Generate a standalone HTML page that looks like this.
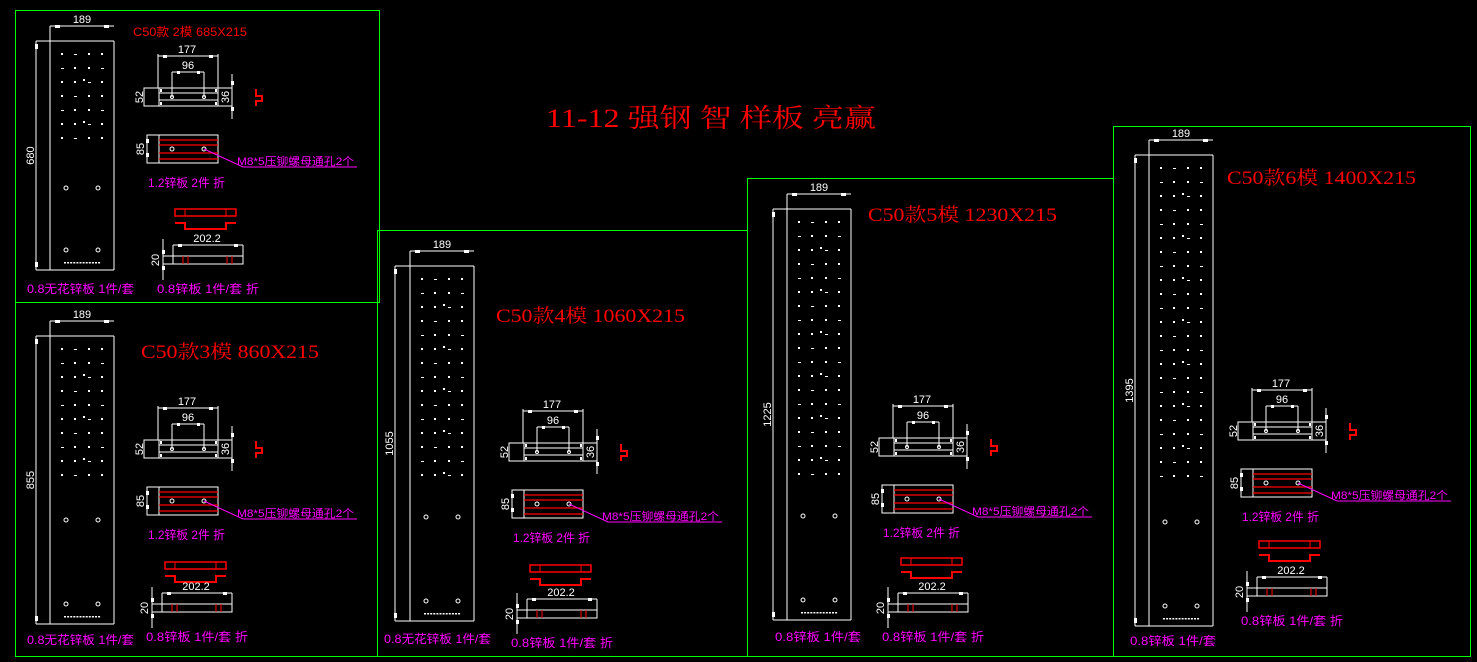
<!DOCTYPE html>
<html><head><meta charset="utf-8">
<style>
html,body{margin:0;padding:0;background:#000;width:1477px;height:662px;overflow:hidden}
svg{display:block}
text{font-family:"Liberation Sans","Noto Sans CJK SC",sans-serif}
.sf{font-family:"Liberation Serif","Noto Serif CJK SC",serif}
</style></head>
<body>
<svg id="s" width="1477" height="662" viewBox="0 0 1477 662" xmlns="http://www.w3.org/2000/svg">
<rect width="1477" height="662" fill="#000"/>
<g fill="none" stroke="#00ff00" stroke-width="1">
<rect x="15.5" y="10.5" width="364" height="292"/>
<rect x="15.5" y="302.5" width="362" height="354"/>
<rect x="377.5" y="230.5" width="370" height="426"/>
<rect x="747.5" y="178.5" width="366" height="478"/>
<rect x="1113.5" y="126.5" width="357" height="530"/>
</g>
<text class="sf" x="546" y="127" fill="#ff0000" font-size="26" textLength="330" lengthAdjust="spacingAndGlyphs">11-12 强钢 智 样板 亮赢</text>
<text x="133" y="36" fill="#ff0000" font-size="12" textLength="114" lengthAdjust="spacingAndGlyphs">C50款 2模 685X215</text>
<text class="sf" x="141" y="358" fill="#ff0000" font-size="19" textLength="178" lengthAdjust="spacingAndGlyphs">C50款3模 860X215</text>
<text class="sf" x="496" y="322" fill="#ff0000" font-size="19" textLength="189" lengthAdjust="spacingAndGlyphs">C50款4模 1060X215</text>
<text class="sf" x="868" y="221" fill="#ff0000" font-size="19" textLength="189" lengthAdjust="spacingAndGlyphs">C50款5模 1230X215</text>
<text class="sf" x="1227" y="184" fill="#ff0000" font-size="19" textLength="189" lengthAdjust="spacingAndGlyphs">C50款6模 1400X215</text>
<g fill="#ff00ff" font-size="12">
<text x="27" y="293" textLength="107" lengthAdjust="spacingAndGlyphs">0.8无花锌板 1件/套</text>
<text x="27" y="644" textLength="107" lengthAdjust="spacingAndGlyphs">0.8无花锌板 1件/套</text>
<text x="384" y="643" textLength="107" lengthAdjust="spacingAndGlyphs">0.8无花锌板 1件/套</text>
<text x="775" y="641" textLength="86" lengthAdjust="spacingAndGlyphs">0.8锌板 1件/套</text>
<text x="1130" y="645" textLength="86" lengthAdjust="spacingAndGlyphs">0.8锌板 1件/套</text>
</g>
<g id="dyn"></g>
</svg>
<script>
var out=[];
function L(x1,y1,x2,y2,c,w){out.push('<line x1="'+x1+'" y1="'+y1+'" x2="'+x2+'" y2="'+y2+'" stroke="'+(c||'#fff')+'" stroke-width="'+(w||1)+'"/>');}
function R(x,y,w,h,c,sw){out.push('<rect x="'+x+'" y="'+y+'" width="'+w+'" height="'+h+'" fill="none" stroke="'+(c||'#fff')+'" stroke-width="'+(sw||1)+'"/>');}
function F(x,y,w,h,c){out.push('<rect x="'+x+'" y="'+y+'" width="'+w+'" height="'+h+'" fill="'+(c||'#fff')+'"/>');}
function C(x,y,r,c){out.push('<circle cx="'+x+'" cy="'+y+'" r="'+r+'" fill="none" stroke="'+(c||'#fff')+'" stroke-width="1"/>');}
function T(x,y,s,sz,c,anchor,rot,tl){out.push('<text x="'+x+'" y="'+y+'" font-size="'+sz+'" fill="'+(c||'#fff')+'"'+(anchor?' text-anchor="'+anchor+'"':'')+(rot?' transform="rotate(-90 '+x+' '+y+')"':'')+(tl?' textLength="'+tl+'" lengthAdjust="spacingAndGlyphs"':'')+'>'+s+'</text>');}
function P(pts,c,w){out.push('<polyline points="'+pts.map(function(p){return p.join(',')}).join(' ')+'" fill="none" stroke="'+c+'" stroke-width="'+w+'"/>');}

function plate(dx,L0,top,bot,lbl){
  var R0=L0+64;
  L(L0,top-15,R0,top-15); L(L0,top-15,L0,top); F(L0+5,top-16,5,3);F(R0-10,top-16,5,3);
  T((L0+R0)/2,top-18,"189",11,"#fff","middle");
  L(dx,top,R0,top); L(dx,bot,R0,bot); L(dx,top,dx,bot); L(L0,top,L0,bot); L(R0,top,R0,bot);
  F(dx-1,top+3,3,5);F(dx-1,bot-8,3,5);
  T(dx-2,(top+bot)/2,lbl,11,"#fff","middle",1);
  var xs=[L0+12,L0+25,L0+39,L0+52];
  var holeY1=bot-104, holeY2=bot-20;
  if(bot-top<240){holeY1=top+147;holeY2=bot-20;}
  var rows=Math.floor((holeY1-40-(top+13))/14)+1;
  for(var i=0;i<rows;i++){var y=top+13+i*14;for(var j=0;j<4;j++){ if((i+j)%3==1) F(xs[j]-1,y,3,1); else F(xs[j]-1,y-1,2,2);} if(i%3==2) F(L0+33,y-3,2,2);}
  C(L0+16,holeY1,2);C(L0+48,holeY1,2);C(L0+16,holeY2,2);C(L0+48,holeY2,2);
  for(var k=0;k<12;k++) F(L0+14+k*3.1,bot-8,2,1.5);
}
function blockA(ox,oy){
  function x(v){return v+ox} function y(v){return v+oy}
  L(x(158),y(56),x(218),y(56)); L(x(158),y(54),x(158),y(88)); L(x(218),y(54),x(218),y(88));
  F(x(163),y(55),4,3);F(x(209),y(55),4,3);
  T(x(187),y(53),"177",11,"#fff","middle");
  L(x(172),y(72),x(204),y(72)); L(x(172),y(72),x(172),y(97)); L(x(204),y(72),x(204),y(97));
  F(x(177),y(71),3,3);F(x(197),y(71),3,3);
  T(x(188),y(69),"96",11,"#fff","middle");
  R(x(144),y(88),15,18); R(x(159),y(88),59,18);
  L(x(159),y(93),x(218),y(93)); L(x(159),y(100),x(218),y(100));
  C(x(172),y(97),1.5);C(x(204),y(97),1.5);
  F(x(160),y(89),2,3);F(x(215),y(89),2,3);F(x(160),y(102),2,3);F(x(215),y(102),2,3);
  T(x(143),y(97),"52",11,"#fff","middle",1);
  L(x(218),y(88),x(232),y(88)); L(x(218),y(106),x(232),y(106)); L(x(232),y(74),x(232),y(119));
  F(x(231),y(81),3,4);F(x(231),y(107),3,4);
  T(x(229),y(97),"36",11,"#fff","middle",1);
  P([[x(256),y(89)],[x(256),y(96)],[x(262),y(96)],[x(262),y(101)],[x(256),y(101)],[x(256),y(106)]],"#ff0000",2);
  R(x(147),y(135),71,28); L(x(159),y(135),x(159),y(163));
  [140,145,153,159].forEach(function(v){L(x(159),y(v),x(218),y(v),"#ff0000",1.2)});
  C(x(172),y(149),2);C(x(204),y(149),2);
  F(x(146),y(139),3,4);F(x(146),y(153),3,4);
  T(x(144),y(149),"85",11,"#fff","middle",1);
  P([[x(204),y(149)],[x(243),y(167)],[x(357),y(167)]],"#ff00ff",1);
  T(x(237),y(165),"M8*5压铆螺母通孔2个",11,"#ff00ff",null,null,117);
  T(x(148),y(187),"1.2锌板 2件 折",12,"#ff00ff",null,null,77);
}
function blockB(ox,oy){
  R(175+ox,209+oy,61,7,"#ff0000",1.5); L(185+ox,209+oy,185+ox,216+oy,"#ff0000"); L(226+ox,209+oy,226+ox,216+oy,"#ff0000");
  P([[175+ox,223+oy],[185+ox,223+oy],[185+ox,229+oy],[226+ox,229+oy],[226+ox,223+oy],[236+ox,223+oy]],"#ff0000",2);
}
function blockC(ox,oy){
  function x(v){return v+ox} function y(v){return v+oy}
  L(x(173),y(245),x(243),y(245)); L(x(173),y(245),x(173),y(256)); L(x(243),y(245),x(243),y(256));
  F(x(178),y(244),4,3);F(x(234),y(244),4,3);
  T(x(207),y(242),"202.2",11,"#fff","middle");
  R(x(173),y(256),70,8); R(x(163),y(256),10,8);
  [183,188,227,232].forEach(function(v){L(x(v),y(256),x(v),y(264),"#ff0000")});
  L(x(163),y(239),x(163),y(280)); F(x(162),y(250),3,4);F(x(162),y(266),3,4);
  T(x(159),y(260),"20",11,"#fff","middle",1);
  T(x(157),y(293),"0.8锌板 1件/套 折",12,"#ff00ff",null,null,102);
}
plate(36,50,41,270,"680"); blockA(0,0); blockB(0,0); blockC(0,0);
plate(36,50,336,624,"855"); blockA(0,352); blockB(-10,353); blockC(-11,348);
plate(395,410,266,621,"1055"); blockA(365,355); blockB(355,356); blockC(354,354);
plate(773,787,209,620,"1225"); blockA(735,350); blockB(726,349); blockC(725,348);
plate(1135,1149,155,626,"1395"); blockA(1094,334); blockB(1084,332); blockC(1084,332);
document.getElementById('dyn').innerHTML=out.join('');
</script>
</body></html>
